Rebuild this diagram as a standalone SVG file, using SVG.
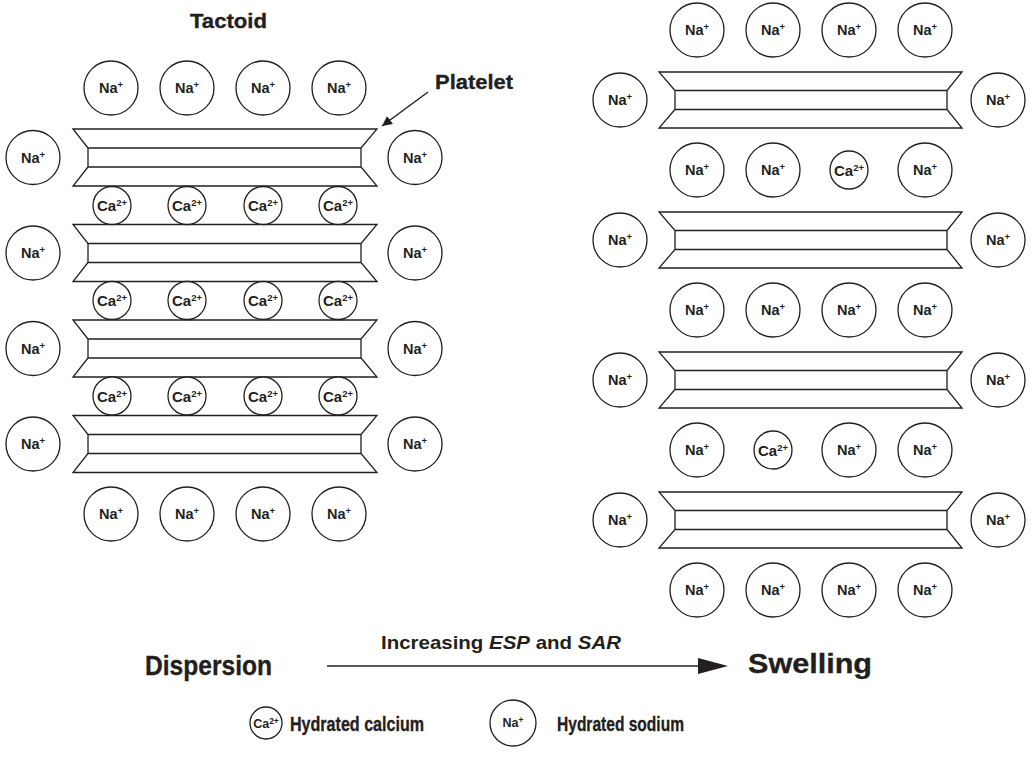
<svg xmlns="http://www.w3.org/2000/svg" xmlns:xlink="http://www.w3.org/1999/xlink" width="1032" height="761" viewBox="0 0 1032 761">
  <style>
    .ring { fill: #fff; stroke: #231f20; stroke-width: 1.3; }
    .t { font-family: "Liberation Sans", Arial, sans-serif; font-weight: bold; fill: #231f20; stroke: none; }
    .heavy { stroke: #231f20; stroke-width: 0.35; }
    .na { font-size: 14.5px; text-anchor: middle; }
    .ca { font-size: 15px; text-anchor: middle; }
    .sup { font-size: 9.5px; }
    .sheet { fill: #fff; stroke: #231f20; stroke-width: 1.3; stroke-linejoin: miter; }
    .conn { stroke: #231f20; stroke-width: 1.4; fill: none; }
  </style>
  <defs>
    <!-- clay platelet: notched outer sheet with inner layer, centred on y=0 -->
    <path id="plateL" class="sheet" d="M0,-28.5 H304 L288,-9.5 V9.5 L304,28.5 H0 L15,9.5 V-9.5 Z M15,-9.5 H288 M15,9.5 H288"/>
    <path id="plateR" class="sheet" d="M0,-28 H303 L288,-9.5 V9.5 L303,28 H0 L16,9.5 V-9.5 Z M16,-9.5 H288 M16,9.5 H288"/>
    <g id="na"><circle class="ring" r="27"/><text class="t na" y="5">Na<tspan class="sup" dy="-5">+</tspan></text></g>
    <g id="ca"><circle class="ring" r="19"/><text class="t ca" y="5.5">Ca<tspan class="sup" font-size="10" dy="-5">2+</tspan></text></g>
    <marker id="head" viewBox="0 0 10 10" refX="10" refY="5" markerWidth="10" markerHeight="10" markerUnits="userSpaceOnUse" orient="auto">
      <path d="M0,0 L10,5 L0,10 Z" fill="#231f20"/>
    </marker>
  </defs>

  <!-- titles -->
  <text class="t heavy" x="190" y="28" font-size="21" textLength="77" lengthAdjust="spacingAndGlyphs">Tactoid</text>
  <text class="t heavy" x="435" y="89" font-size="21" textLength="78" lengthAdjust="spacingAndGlyphs">Platelet</text>

  <!-- left tactoid: platelets -->
  <g id="platelet-l1"><use xlink:href="#plateL" transform="translate(73,157.5)"/></g>
  <g id="platelet-l2"><use xlink:href="#plateL" transform="translate(73,253)"/></g>
  <g id="platelet-l3"><use xlink:href="#plateL" transform="translate(73,348.5)"/></g>
  <g id="platelet-l4"><use xlink:href="#plateL" transform="translate(73,444)"/></g>

  <!-- left tactoid: sodium ions -->
  <g id="na-l-top-1"><use xlink:href="#na" x="111" y="88"/></g>
  <g id="na-l-top-2"><use xlink:href="#na" x="187" y="88"/></g>
  <g id="na-l-top-3"><use xlink:href="#na" x="263" y="88"/></g>
  <g id="na-l-top-4"><use xlink:href="#na" x="339" y="88"/></g>
  <g id="na-l-side-1"><use xlink:href="#na" x="33" y="157.5"/></g>
  <g id="na-l-side-2"><use xlink:href="#na" x="33" y="253"/></g>
  <g id="na-l-side-3"><use xlink:href="#na" x="33" y="348.5"/></g>
  <g id="na-l-side-4"><use xlink:href="#na" x="33" y="444"/></g>
  <g id="na-l-side-5"><use xlink:href="#na" x="415" y="157.5"/></g>
  <g id="na-l-side-6"><use xlink:href="#na" x="415" y="253"/></g>
  <g id="na-l-side-7"><use xlink:href="#na" x="415" y="348.5"/></g>
  <g id="na-l-side-8"><use xlink:href="#na" x="415" y="444"/></g>
  <g id="na-l-bot-1"><use xlink:href="#na" x="111" y="514"/></g>
  <g id="na-l-bot-2"><use xlink:href="#na" x="187" y="514"/></g>
  <g id="na-l-bot-3"><use xlink:href="#na" x="263" y="514"/></g>
  <g id="na-l-bot-4"><use xlink:href="#na" x="339" y="514"/></g>

  <!-- left tactoid: calcium ions between platelets -->
  <g id="ca-l-1"><use xlink:href="#ca" x="112" y="205.5"/></g>
  <g id="ca-l-2"><use xlink:href="#ca" x="187" y="205.5"/></g>
  <g id="ca-l-3"><use xlink:href="#ca" x="263" y="205.5"/></g>
  <g id="ca-l-4"><use xlink:href="#ca" x="338" y="205.5"/></g>
  <g id="ca-l-5"><use xlink:href="#ca" x="112" y="300.5"/></g>
  <g id="ca-l-6"><use xlink:href="#ca" x="187" y="300.5"/></g>
  <g id="ca-l-7"><use xlink:href="#ca" x="263" y="300.5"/></g>
  <g id="ca-l-8"><use xlink:href="#ca" x="338" y="300.5"/></g>
  <g id="ca-l-9"><use xlink:href="#ca" x="112" y="396"/></g>
  <g id="ca-l-10"><use xlink:href="#ca" x="187" y="396"/></g>
  <g id="ca-l-11"><use xlink:href="#ca" x="263" y="396"/></g>
  <g id="ca-l-12"><use xlink:href="#ca" x="338" y="396"/></g>

  <!-- right (swollen) stack: platelets -->
  <g id="platelet-r1"><use xlink:href="#plateR" transform="translate(659,100)"/></g>
  <g id="platelet-r2"><use xlink:href="#plateR" transform="translate(659,240)"/></g>
  <g id="platelet-r3"><use xlink:href="#plateR" transform="translate(659,380)"/></g>
  <g id="platelet-r4"><use xlink:href="#plateR" transform="translate(659,520)"/></g>

  <!-- right stack: ion rows -->
  <g id="na-r-1"><use xlink:href="#na" x="697" y="30"/></g>
  <g id="na-r-2"><use xlink:href="#na" x="773" y="30"/></g>
  <g id="na-r-3"><use xlink:href="#na" x="849" y="30"/></g>
  <g id="na-r-4"><use xlink:href="#na" x="925" y="30"/></g>
  <g id="na-r-5"><use xlink:href="#na" x="697" y="170"/></g>
  <g id="na-r-6"><use xlink:href="#na" x="773" y="170"/></g>
  <g id="ca-r-1"><use xlink:href="#ca" x="849" y="170"/></g>
  <g id="na-r-7"><use xlink:href="#na" x="925" y="170"/></g>
  <g id="na-r-8"><use xlink:href="#na" x="697" y="310"/></g>
  <g id="na-r-9"><use xlink:href="#na" x="773" y="310"/></g>
  <g id="na-r-10"><use xlink:href="#na" x="849" y="310"/></g>
  <g id="na-r-11"><use xlink:href="#na" x="925" y="310"/></g>
  <g id="na-r-12"><use xlink:href="#na" x="697" y="450"/></g>
  <g id="ca-r-2"><use xlink:href="#ca" x="773" y="450"/></g>
  <g id="na-r-13"><use xlink:href="#na" x="849" y="450"/></g>
  <g id="na-r-14"><use xlink:href="#na" x="925" y="450"/></g>
  <g id="na-r-15"><use xlink:href="#na" x="697" y="590"/></g>
  <g id="na-r-16"><use xlink:href="#na" x="773" y="590"/></g>
  <g id="na-r-17"><use xlink:href="#na" x="849" y="590"/></g>
  <g id="na-r-18"><use xlink:href="#na" x="925" y="590"/></g>
  <g id="na-r-side-1"><use xlink:href="#na" x="620" y="100"/></g>
  <g id="na-r-side-2"><use xlink:href="#na" x="620" y="240"/></g>
  <g id="na-r-side-3"><use xlink:href="#na" x="620" y="380"/></g>
  <g id="na-r-side-4"><use xlink:href="#na" x="620" y="520"/></g>
  <g id="na-r-side-5"><use xlink:href="#na" x="998" y="100"/></g>
  <g id="na-r-side-6"><use xlink:href="#na" x="998" y="240"/></g>
  <g id="na-r-side-7"><use xlink:href="#na" x="998" y="380"/></g>
  <g id="na-r-side-8"><use xlink:href="#na" x="998" y="520"/></g>

  <!-- connectors -->
  <g id="connectors">
    <line class="conn" x1="428" y1="92" x2="382" y2="126" marker-end="url(#head)"/>
    <line class="conn" x1="327" y1="666" x2="700" y2="666"/>
    <path d="M698,658 L728,666 L698,674 Z" fill="#231f20"/>
  </g>

  <!-- process labels -->
  <text class="t heavy" x="145" y="675" font-size="28" textLength="127" lengthAdjust="spacingAndGlyphs">Dispersion</text>
  <text class="t heavy" x="748" y="673" font-size="28" textLength="124" lengthAdjust="spacingAndGlyphs">Swelling</text>
  <text class="t" x="381" y="649" font-size="18.5" textLength="240" lengthAdjust="spacingAndGlyphs">Increasing <tspan font-style="italic">ESP</tspan> and <tspan font-style="italic">SAR</tspan></text>

  <!-- legend -->
  <g id="legend-ca">
    <circle class="ring" cx="266" cy="723" r="16"/>
    <text class="t" x="266" y="727.5" font-size="12.5" text-anchor="middle">Ca<tspan font-size="8.5" dy="-4">2+</tspan></text>
    <text class="t heavy" x="290" y="730.5" font-size="21" textLength="134" lengthAdjust="spacingAndGlyphs">Hydrated calcium</text>
  </g>
  <g id="legend-na">
    <circle class="ring" cx="513" cy="723" r="23"/>
    <text class="t" x="513" y="727" font-size="12.5" text-anchor="middle">Na<tspan font-size="8.5" dy="-4">+</tspan></text>
    <text class="t heavy" x="557" y="730.5" font-size="21" textLength="127" lengthAdjust="spacingAndGlyphs">Hydrated sodium</text>
  </g>
</svg>
